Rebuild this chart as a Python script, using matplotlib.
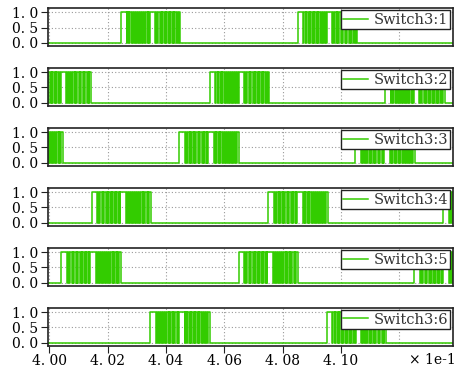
import matplotlib
matplotlib.use("Agg")
import matplotlib.pyplot as plt

# switching-on instants of each gate signal (time axis in units of 1e-1 s)
sw1_on = [4.0246, 4.0852]
sw2_on = [3.9940, 4.0551, 4.1151]
sw3_on = [3.9843, 4.0446, 4.1049]
sw4_on = [4.0145, 4.0751, 4.1351]
sw5_on = [4.0042, 4.0649, 4.1252]
sw6_on = [4.0346, 4.0951]
switch_on = [sw1_on, sw2_on, sw3_on, sw4_on, sw5_on, sw6_on]
labels = ["Switch3:1", "Switch3:2", "Switch3:3", "Switch3:4", "Switch3:5", "Switch3:6"]

# toggle instants inside one conduction window, offset from switch-on (x 1e-4)
pulse_edges = [0,
               19, 22, 27, 29, 35, 38, 41, 43, 49, 52, 55, 57,
               63, 66, 69, 71, 77, 80, 83, 85, 91, 94, 96, 99,
               118, 121, 125, 127, 133, 136, 139, 141, 147, 150, 153, 155,
               161, 164, 167, 169, 175, 178, 181, 183, 189, 192, 195, 198, 204]

xticks = [4.00, 4.02, 4.04, 4.06, 4.08, 4.10]
xticklabels = ["4. 00", "4. 02", "4. 04", "4. 06", "4. 08", "4. 10"]
yticks = [0.0, 0.5, 1.0]
yticklabels = ["0. 0", "0. 5", "1. 0"]

green = "#33cc00"
plt.rcParams["font.family"] = ["DejaVu Serif"]

fig, axes = plt.subplots(6, 1, figsize=(4.66, 3.69), dpi=100)
fig.subplots_adjust(left=0.1037, right=0.9714, top=0.9775, bottom=0.0623,
                    hspace=0.587)

for i, ax in enumerate(axes):
    xs = [3.98]
    ys = [0]
    for t0 in switch_on[i]:
        for k, e in enumerate(pulse_edges):
            xs.append(t0 + e * 1e-4)
            ys.append(1 if k % 2 == 0 else 0)
    xs.append(4.15)
    ys.append(ys[-1])
    ax.plot(xs, ys, color=green, lw=1.1, drawstyle="steps-post",
            label=labels[i])

    ax.set_xlim(3.9997, 4.1383)
    ax.set_ylim(-0.11, 1.13)
    ax.set_yticks(yticks)
    ax.set_yticklabels(yticklabels, fontsize=10)
    ax.set_xticks(xticks)
    ax.set_xticks([4.12], minor=True)
    ax.grid(True, which="both", color="#999999", lw=0.8, linestyle=(0, (1, 2)))
    ax.tick_params(axis="y", direction="out", length=5, width=0.8,
                   color="#222222", pad=2, right=False)
    ax.tick_params(axis="x", which="minor", length=0)
    if i < 5:
        ax.tick_params(axis="x", which="both", bottom=False, labelbottom=False)
    else:
        ax.set_xticklabels(xticklabels, fontsize=10)
        ax.tick_params(axis="x", direction="out", length=5, width=0.8,
                       color="#222222", pad=1)
    for sp in ax.spines.values():
        sp.set_color("#222222")
        sp.set_linewidth(1.2)

    leg = ax.legend(loc="upper right", fontsize=10.5, frameon=True,
                    fancybox=False, framealpha=1, edgecolor="#222222",
                    borderpad=0.15, handlelength=1.7, handletextpad=0.4,
                    borderaxespad=0.15)
    leg.get_frame().set_linewidth(1.0)
    for txt in leg.get_texts():
        txt.set_color("#333333")

fig.text(0.878, 0.024, "\u00d7 1e-1", fontsize=10, ha="left", va="center")

fig.savefig("out.png", dpi=100)
